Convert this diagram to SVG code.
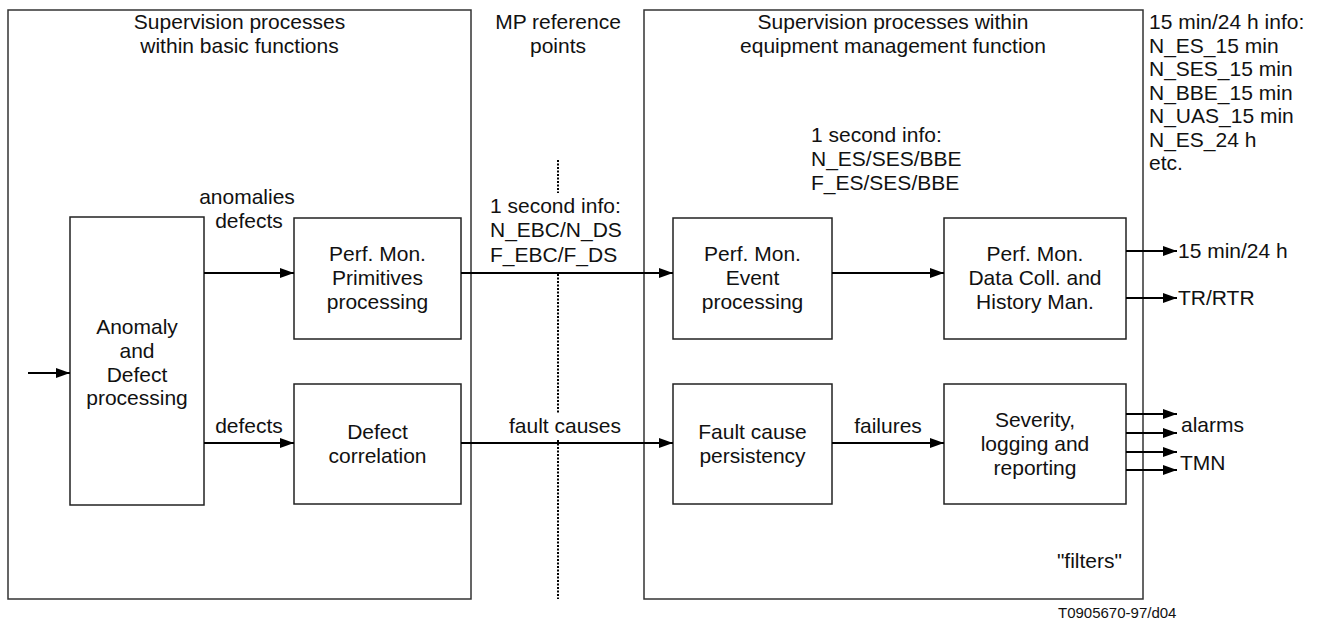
<svg xmlns="http://www.w3.org/2000/svg" width="1319" height="621" viewBox="0 0 1319 621">
<defs>
<marker id="ah" markerUnits="userSpaceOnUse" markerWidth="14" markerHeight="10" refX="14" refY="5" orient="auto" viewBox="0 0 14 10"><path d="M0,0 L14,5 L0,10 z" fill="#000"/></marker>
</defs>
<style>
text{font-family:"Liberation Sans",Arial,sans-serif;font-size:21px;fill:#111}
.c{text-anchor:middle}
.e{text-anchor:end}
.box{fill:#fff;stroke:#222;stroke-width:1.5}
.big{fill:none;stroke:#333;stroke-width:1.5}
.ar{stroke:#000;stroke-width:2.2;fill:none;marker-end:url(#ah)}
.dot{stroke:#000;stroke-width:2;stroke-dasharray:2 1.5;fill:none}
.small{font-size:15px}
</style>
<g id="basic-functions">
<rect class="big" x="8" y="10" width="463" height="589"/>
<text class="c" x="239.5" y="29">Supervision processes</text>
<text class="c" x="239.5" y="53">within basic functions</text>
</g>
<g id="mp-reference">
<text class="c" x="558" y="29">MP reference</text>
<text class="c" x="558" y="53">points</text>
<path class="dot" d="M558,160 V193 M558,274 V413 M558,440 V599"/>
</g>
<g id="equipment-management">
<rect class="big" x="644" y="10" width="499" height="589"/>
<text class="c" x="893" y="29">Supervision processes within</text>
<text class="c" x="893" y="53">equipment management function</text>
<text class="e" x="1122" y="568">"filters"</text>
</g>
<g id="info-15min">
<text x="1149" y="29">15 min/24 h info:</text>
<text x="1149" y="52.5">N_ES_15 min</text>
<text x="1149" y="76">N_SES_15 min</text>
<text x="1149" y="99.5">N_BBE_15 min</text>
<text x="1149" y="123">N_UAS_15 min</text>
<text x="1149" y="146.5">N_ES_24 h</text>
<text x="1149" y="170">etc.</text>
</g>
<g id="anomaly-defect">
<rect class="box" x="70" y="217" width="134" height="288"/>
<text class="c" x="137" y="334">Anomaly</text>
<text class="c" x="137" y="358">and</text>
<text class="c" x="137" y="382">Defect</text>
<text class="c" x="137" y="405">processing</text>
</g>
<g id="pm-primitives">
<rect class="box" x="294" y="218" width="167" height="121"/>
<text class="c" x="377.5" y="261">Perf. Mon.</text>
<text class="c" x="377.5" y="285">Primitives</text>
<text class="c" x="377.5" y="309">processing</text>
</g>
<g id="defect-correlation">
<rect class="box" x="294" y="384" width="167" height="120"/>
<text class="c" x="377.5" y="439">Defect</text>
<text class="c" x="377.5" y="463">correlation</text>
</g>
<g id="pm-event">
<rect class="box" x="673" y="218" width="159" height="121"/>
<text class="c" x="752.5" y="261">Perf. Mon.</text>
<text class="c" x="752.5" y="285">Event</text>
<text class="c" x="752.5" y="309">processing</text>
</g>
<g id="fault-persistency">
<rect class="box" x="673" y="384" width="159" height="120"/>
<text class="c" x="752.5" y="439">Fault cause</text>
<text class="c" x="752.5" y="463">persistency</text>
</g>
<g id="pm-data-collection">
<rect class="box" x="944" y="218" width="182" height="121"/>
<text class="c" x="1035" y="261">Perf. Mon.</text>
<text class="c" x="1035" y="285">Data Coll. and</text>
<text class="c" x="1035" y="309">History Man.</text>
</g>
<g id="severity">
<rect class="box" x="944" y="384" width="182" height="120"/>
<text class="c" x="1035" y="427">Severity,</text>
<text class="c" x="1035" y="451">logging and</text>
<text class="c" x="1035" y="475">reporting</text>
</g>
<g id="connectors">
<line class="ar" x1="28" y1="373" x2="70" y2="373"/>
<line class="ar" x1="204" y1="273" x2="294" y2="273"/>
<line class="ar" x1="204" y1="443" x2="294" y2="443"/>
<line class="ar" x1="461" y1="273" x2="673" y2="273"/>
<line class="ar" x1="461" y1="443" x2="673" y2="443"/>
<line class="ar" x1="832" y1="273" x2="944" y2="273"/>
<line class="ar" x1="832" y1="443" x2="944" y2="443"/>
<line class="ar" x1="1126" y1="251" x2="1177" y2="251"/>
<line class="ar" x1="1126" y1="298" x2="1177" y2="298"/>
<line class="ar" x1="1126" y1="414" x2="1177" y2="414"/>
<line class="ar" x1="1126" y1="433" x2="1177" y2="433"/>
<line class="ar" x1="1126" y1="452" x2="1177" y2="452"/>
<line class="ar" x1="1126" y1="470" x2="1177" y2="470"/>
</g>
<g id="labels">
<text class="c" x="247" y="204">anomalies</text>
<text class="c" x="249" y="228">defects</text>
<text class="c" x="249" y="433">defects</text>
<text x="490" y="213">1 second info:</text>
<text x="490" y="237">N_EBC/N_DS</text>
<text x="490" y="262">F_EBC/F_DS</text>
<text class="c" x="565" y="433">fault causes</text>
<text class="c" x="888" y="433">failures</text>
<text x="811" y="142">1 second info:</text>
<text x="811" y="166">N_ES/SES/BBE</text>
<text x="811" y="190">F_ES/SES/BBE</text>
<text x="1178" y="258">15 min/24 h</text>
<text x="1178" y="305">TR/RTR</text>
<text x="1181" y="432">alarms</text>
<text x="1180" y="470">TMN</text>
<text class="small" x="1058" y="618">T0905670-97/d04</text>
</g>
</svg>
